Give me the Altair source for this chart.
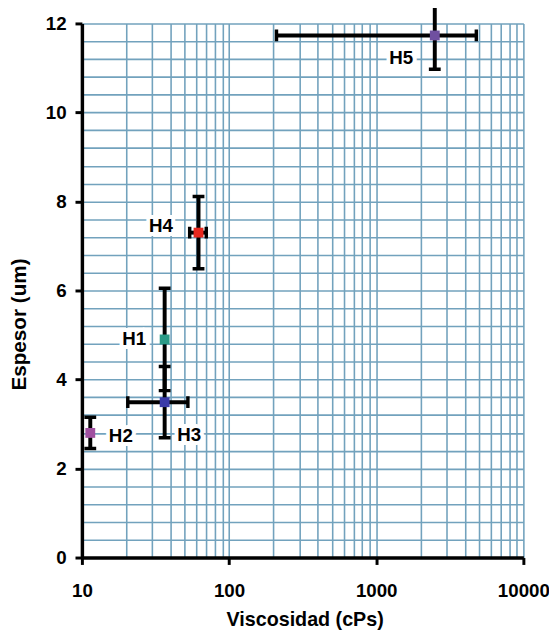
import altair as alt
import pandas as pd

# ---- data ----
names = ["H1", "H2", "H3", "H4", "H5"]
viscosidad = [36.5, 11.4, 36.5, 62.0, 2500.0]       # cPs
espesor = [4.90, 2.80, 3.49, 7.30, 11.73]           # um
espesor_err = [1.15, 0.35, 0.80, 0.81, 0.76]
viscosidad_err = [0.0, 0.0, 16.0, 8.0, 2290.0]
colors = ["#2a9a86", "#a050a0", "#3a3aa8", "#e8281e", "#7050a0"]

x_ticks = [10, 100, 1000, 10000]
y_ticks = [0, 2, 4, 6, 8, 10, 12]
x_grid = [k * 10 ** d for d in range(1, 4) for k in range(1, 10)] + [10000]
y_grid = [round(0.4 * i, 1) for i in range(31)]

# label offsets (pixels) -- style, kept apart from data
label_dx = [-31, 31, 25, -38, -34]
label_dy = [0, 3, 33, -7, 23]

df = pd.DataFrame({
    "name": names, "v": viscosidad, "e": espesor,
    "elo": [a - b for a, b in zip(espesor, espesor_err)],
    "ehi": [a + b for a, b in zip(espesor, espesor_err)],
    "vlo": [a - b for a, b in zip(viscosidad, viscosidad_err)],
    "vhi": [a + b for a, b in zip(viscosidad, viscosidad_err)],
    "verr": viscosidad_err,
})
ycaps = pd.DataFrame({"v": viscosidad * 2,
                      "y": list(df["elo"]) + list(df["ehi"])})
dfx = df[df["verr"] > 0]
xcaps = pd.DataFrame({"x": list(dfx["vlo"]) + list(dfx["vhi"]),
                      "e": list(dfx["e"]) * 2})

FONT = "Liberation Sans"
xscale = alt.Scale(type="log", domain=[10, 10000], nice=False)
yscale = alt.Scale(domain=[0, 12], nice=False, zero=False)

xaxis = alt.Axis(values=x_ticks, grid=False, format="d", domainWidth=3.5,
                 domainColor="black", tickColor="black", tickWidth=3, tickSize=7,
                 labelPadding=18, labelFont=FONT, labelFontWeight="bold",
                 labelFontSize=19, labelColor="black", labelFlush=False,
                 title="Viscosidad (cPs)", titleFont=FONT, titleFontSize=20,
                 titleFontWeight="bold", titleColor="black",
                 titleX=226, titleY=63, titleAlign="center", titleBaseline="middle")
yaxis = alt.Axis(values=y_ticks, grid=False, domainWidth=3.5,
                 domainColor="black", tickColor="black", tickWidth=3, tickSize=7,
                 labelPadding=9, labelFont=FONT, labelFontWeight="bold",
                 labelFontSize=19, labelColor="black",
                 title="Espesor (um)", titleFont=FONT, titleFontSize=21,
                 titleFontWeight="bold", titleColor="black", titleAngle=270,
                 titleX=-63, titleY=305, titleAlign="center", titleBaseline="middle")

gx = alt.Axis(orient="top", values=x_grid, grid=True, labels=False, ticks=False,
              domain=False, title=None, gridColor="#72a2bd", gridWidth=1.6,
              gridOpacity=1)
gy = alt.Axis(orient="right", values=y_grid, grid=True, labels=False, ticks=False,
              domain=False, title=None, gridColor="#72a2bd", gridWidth=1.6,
              gridOpacity=1)

grid = alt.Chart(df).mark_point(opacity=0).encode(
    x=alt.X("v:Q", scale=xscale, axis=gx),
    y=alt.Y("e:Q", scale=yscale, axis=gy),
)

X = lambda f: alt.X(f, scale=xscale, axis=xaxis)
Y = lambda f: alt.Y(f, scale=yscale, axis=yaxis)

vbars = alt.Chart(df).mark_rule(color="black", strokeWidth=4).encode(
    x=X("v:Q"), y=Y("elo:Q"), y2="ehi:Q")
hbars = alt.Chart(dfx).mark_rule(color="black", strokeWidth=4).encode(
    x=X("vlo:Q"), x2="vhi:Q", y=Y("e:Q"))
vcaps = alt.Chart(ycaps).mark_tick(orient="horizontal", color="black", size=12,
                                   thickness=3.5, opacity=1, clip=True).encode(
    x=X("v:Q"), y=Y("y:Q"))
hcaps = alt.Chart(xcaps).mark_tick(orient="vertical", color="black", size=12,
                                   thickness=3.5, opacity=1, clip=True).encode(
    x=X("x:Q"), y=Y("e:Q"))
pts = alt.Chart(df).mark_square(size=100, opacity=1).encode(
    x=X("v:Q"), y=Y("e:Q"),
    color=alt.Color("name:N", scale=alt.Scale(domain=names, range=colors), legend=None))

halos, texts = [], []
for nm, ddx, ddy in zip(names, label_dx, label_dy):
    base = alt.Chart(df).transform_filter(alt.datum.name == nm)
    halos.append(base.mark_text(font=FONT, fontWeight="bold", fontSize=19,
                                color="white", stroke="white", strokeWidth=8,
                                align="center", baseline="middle",
                                dx=ddx, dy=ddy).encode(
        x=X("v:Q"), y=Y("e:Q"), text="name:N"))
    texts.append(base.mark_text(font=FONT, fontWeight="bold", fontSize=19,
                                color="black", align="center", baseline="middle",
                                dx=ddx, dy=ddy).encode(
        x=X("v:Q"), y=Y("e:Q"), text="name:N"))

main = alt.layer(*halos, hbars, vbars, hcaps, vcaps, pts, *texts)

chart = alt.layer(grid, main).resolve_axis(x="independent", y="independent").properties(
    width=448, height=542,
    autosize=alt.AutoSizeParams(type="none"),
    padding={"left": 75, "top": 11, "right": 26, "bottom": 78},
    background="white",
).configure_view(stroke=None)

chart.save("out.html", embed_options={"renderer": "svg", "actions": False})
